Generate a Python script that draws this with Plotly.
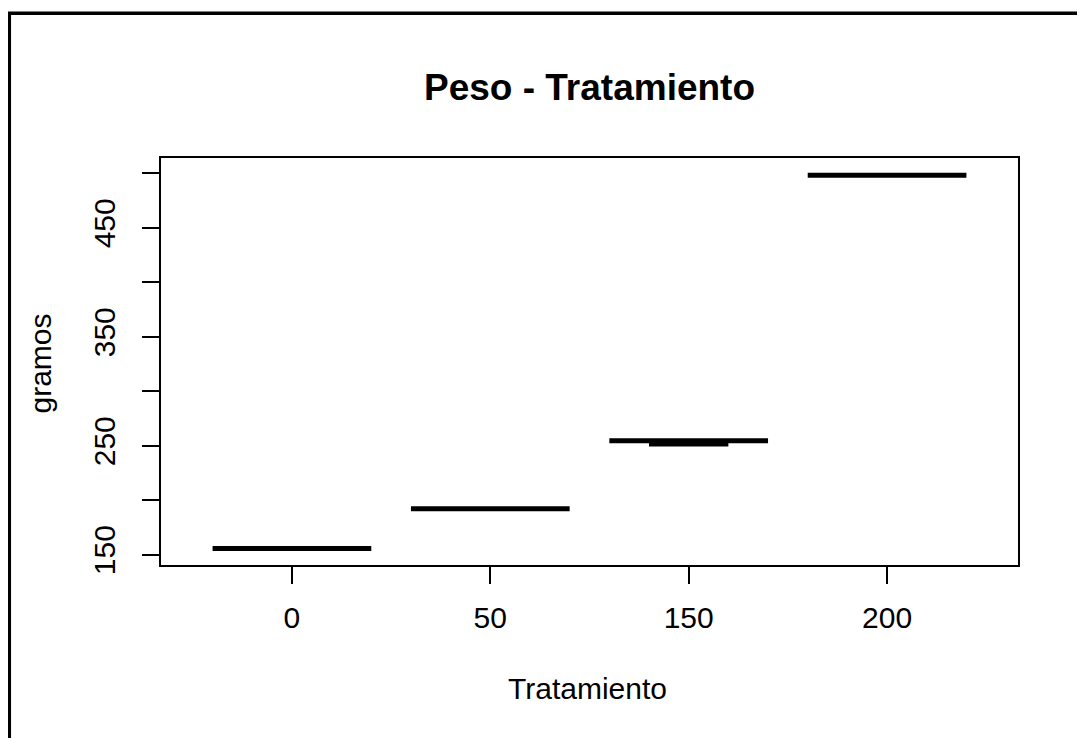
import plotly.graph_objects as go

# Data
categories = ["0", "50", "150", "200"]
positions = [1, 2, 3, 4]
q1_vals = [155.7, 192.2, 254.6, 498.2]
median_vals = [155.7, 192.2, 254.6, 498.2]
q3_vals = [155.7, 192.2, 254.6, 498.2]
lower_vals = [155.7, 192.2, 251.5, 498.2]
upper_vals = [155.7, 192.2, 254.6, 498.2]

y_tick_vals = [150, 200, 250, 300, 350, 400, 450, 500]
y_tick_text = ["150", "", "250", "", "350", "", "450", ""]

# page body adds an 8px offset; work in reference pixel coordinates
OFF = 8
W, H = 1085 - OFF, 738 - OFF
PLOT_L, PLOT_R, PLOT_T, PLOT_B = 161, 1018, 158, 565
L = PLOT_L - OFF
T = PLOT_T - OFF
R = W - (PLOT_R - OFF)
B = H - (PLOT_B - OFF)
PW, PH = PLOT_R - PLOT_L, PLOT_B - PLOT_T


def px_x(x):
    return (x - PLOT_L) / PW


def px_y(y):
    return (PLOT_B - y) / PH


FONT = "Liberation Sans, Arial, sans-serif"

fig = go.Figure()
fig.add_trace(go.Box(
    x=positions,
    q1=q1_vals,
    median=median_vals,
    q3=q3_vals,
    lowerfence=lower_vals,
    upperfence=upper_vals,
    width=0.8,
    whiskerwidth=0.5,
    fillcolor="white",
    line=dict(color="black", width=5),
    boxpoints=False,
    hoverinfo="skip",
    showlegend=False,
))

fig.update_layout(
    width=W, height=H,
    margin=dict(l=L, r=R, t=T, b=B),
    paper_bgcolor="white",
    plot_bgcolor="white",
    font=dict(family=FONT, color="black", size=30),
    title=dict(
        text="Peso - Tratamiento",
        x=px_x(589.5), xref="paper", xanchor="center",
        y=1 - (87 - OFF) / H, yref="container", yanchor="middle",
        font=dict(family=FONT, size=37, color="black", weight="bold"),
    ),
    xaxis=dict(
        range=[0.34, 4.66],
        tickvals=positions,
        ticktext=categories,
        ticks="outside", ticklen=17, tickwidth=1.5, tickcolor="black",
        showline=True, linecolor="black", linewidth=1.5, mirror=True,
        showgrid=False, zeroline=False,
        tickfont=dict(family=FONT, size=30, color="black"),
        ticklabelstandoff=8,
    ),
    yaxis=dict(
        range=[140.55, 514.04],
        tickvals=y_tick_vals,
        ticktext=y_tick_text,
        tickangle=-90,
        ticks="outside", ticklen=17, tickwidth=1.5, tickcolor="black",
        showline=True, linecolor="black", linewidth=1.5, mirror=True,
        showgrid=False, zeroline=False,
        tickfont=dict(family=FONT, size=30, color="black"),
        ticklabelstandoff=15,
    ),
    annotations=[
        dict(text="Tratamiento", xref="paper", yref="paper",
             x=px_x(587.5), y=px_y(688), xanchor="center", yanchor="middle",
             showarrow=False, font=dict(family=FONT, size=30, color="black")),
        dict(text="gramos", xref="paper", yref="paper",
             x=px_x(40), y=px_y(363.5), xanchor="center", yanchor="middle",
             textangle=-90, showarrow=False,
             font=dict(family=FONT, size=30, color="black")),
    ],
    shapes=[
        dict(type="rect", xref="paper", yref="paper",
             x0=px_x(9.3), x1=px_x(1100), y0=px_y(13.3), y1=px_y(760),
             line=dict(color="black", width=3.5), fillcolor="rgba(0,0,0,0)",
             layer="above"),
    ],
)

fig.write_html("out.html")
